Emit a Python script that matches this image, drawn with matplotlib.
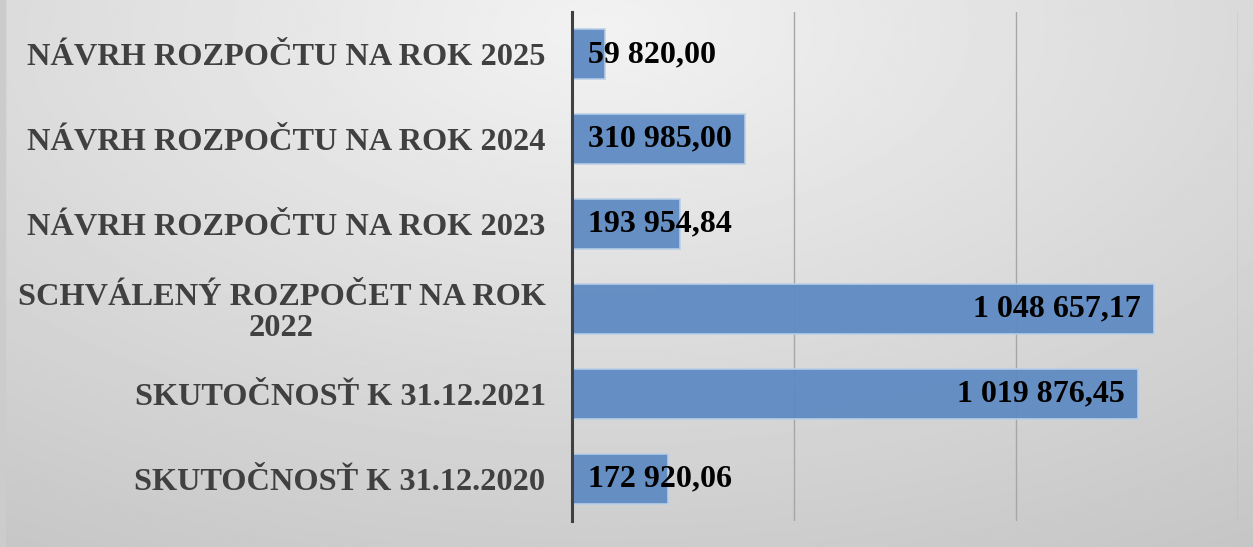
import matplotlib.pyplot as plt
import numpy as np

categories = ["SKUTOČNOSŤ K 31.12.2020", "SKUTOČNOSŤ K 31.12.2021",
              "SCHVÁLENÝ ROZPOČET NA ROK\n2022", "NÁVRH ROZPOČTU NA ROK 2023",
              "NÁVRH ROZPOČTU NA ROK 2024", "NÁVRH ROZPOČTU NA ROK 2025"]
values = [172920.06, 1019876.45, 1048657.17, 193954.84, 310985.00, 59820.00]
value_labels = ["172 920,06", "1 019 876,45", "1 048 657,17",
                "193 954,84", "310 985,00", "59 820,00"]

fig = plt.figure(figsize=(12.53, 5.47), dpi=100)

# background gradient
bg = fig.add_axes([0, 0, 1, 1], zorder=0)
yy, xx = np.mgrid[0:1:300j, 0:1:600j]
d = np.sqrt(((xx - 0.48) / 0.9) ** 2 + ((yy - 0.05) / 1.1) ** 2)
shade = 0.95 - 0.17 * np.clip(d, 0, 1.2)
shade[:, :3] = 0.80
bg.imshow(shade, cmap='gray', vmin=0, vmax=1, aspect='auto', extent=[0, 1, 1, 0])
bg.axis('off')

ax = fig.add_axes([0.4565, 0.0475, 0.5315, 0.9305], zorder=1)
ax.patch.set_alpha(0)
y = np.arange(len(categories))
ax.barh(y, values, height=0.59, color='#5f8bc3', alpha=0.95,
        edgecolor='#b9cfe8', linewidth=1.2, zorder=2)

ax.set_xlim(0, 1200000)
ax.set_ylim(-0.5, len(categories) - 0.5)
ax.set_xticks([0, 400000, 800000, 1200000])
ax.grid(axis='x', color='#a6a6a6', linewidth=1.0, zorder=1)
ax.tick_params(axis='x', length=0, labelbottom=False)
ax.tick_params(axis='y', length=0, pad=19)
ax.set_yticks(y)
ax.set_yticklabels(categories, fontsize=23.3, fontweight='bold',
                   family='Liberation Serif', color='#404040')
for lbl in ax.get_yticklabels():
    lbl.set_multialignment('center')
    lbl.set_linespacing(1.05)

for s in ['top', 'right', 'bottom']:
    ax.spines[s].set_visible(False)
ax.spines['left'].set_color('#404040')
ax.spines['left'].set_linewidth(2.2)

for yi, v, t in zip(y, values, value_labels):
    if v > 250000:
        ax.text(v - 23500, yi, t, ha='right', va='center', fontsize=23,
                fontweight='bold', family='Liberation Serif', color='black', zorder=3)
    else:
        ax.text(28000, yi, t, ha='left', va='center', fontsize=23,
                fontweight='bold', family='Liberation Serif', color='black', zorder=3)

fig.savefig('out.png', dpi=100)
